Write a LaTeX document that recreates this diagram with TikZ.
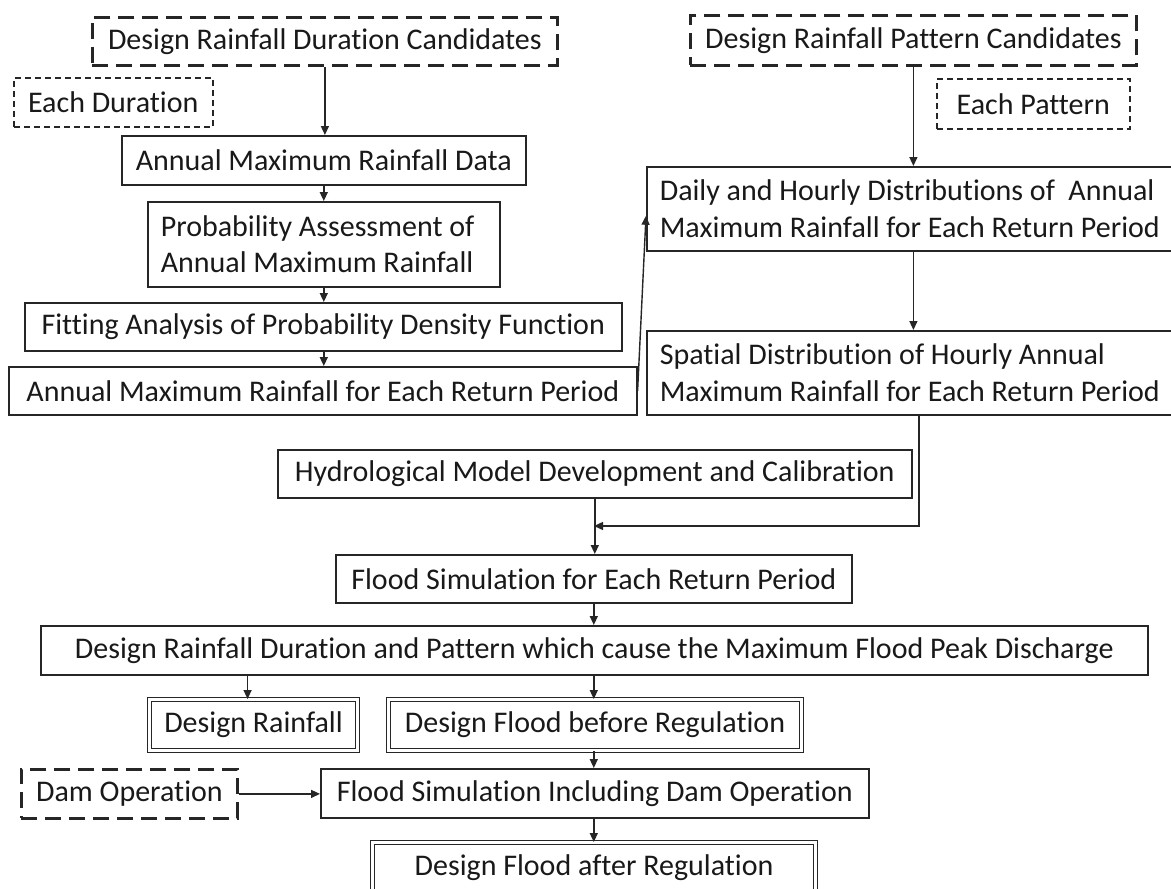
\documentclass[tikz,border=0pt]{standalone}
\usepackage{fontspec}
\setmainfont[RawFeature={-liga;-clig;-dlig;-calt}]{Carlito}
\usetikzlibrary{arrows.meta}
\begin{document}
\begin{tikzpicture}[x=1pt,y=-1pt,
  every node/.style={font=\fontsize{30}{36.7}\selectfont, text=black!90},
  box/.style={draw=black!85, line width=1.6pt, inner sep=0pt, anchor=north west},
  lbox/.style={box, inner xsep=13pt, align=flush left},
  dbox/.style={box, line width=1.1pt, double=white, double distance=2.6pt},
  dashbox/.style={box, line width=2.8pt, dash pattern=on 16pt off 8pt},
  fdashbox/.style={box, line width=1.5pt, dash pattern=on 6pt off 4pt},
  arr/.style={draw=black!85, line width=1.4pt, -{Triangle[length=9pt,width=8pt]}},
  ln/.style={draw=black!85, line width=1.4pt},
  ]
\useasboundingbox[fill=white] (0,0) rectangle (1171,889);

% left column
\node[dashbox, minimum width=465pt, minimum height=48pt] (dur) at (91,16) {Design Rainfall Duration Candidates};
\node[fdashbox, minimum width=199pt, minimum height=49pt] (eachdur) at (13,77) {Each Duration};
\node[box, minimum width=404pt, minimum height=49pt] (amrd) at (121,135) {Annual Maximum Rainfall Data};
\node[lbox, text width=326pt, minimum height=85pt] (prob) at (147,201) {Probability Assessment of\\Annual Maximum Rainfall};
\node[box, minimum width=597pt, minimum height=48pt] (fit) at (24,302) {Fitting Analysis of Probability Density Function};
\node[box, minimum width=628pt, minimum height=48pt] (amrp) at (8,366) {Annual Maximum Rainfall for Each Return Period};

% right column
\node[dashbox, minimum width=446pt, minimum height=50pt] (pat) at (689,14) {Design Rainfall Pattern Candidates};
\node[fdashbox, minimum width=193pt, minimum height=50pt] (eachpat) at (936,78) {Each Pattern};
\node[lbox, text width=500pt, minimum height=84pt] (daily) at (646,166) {Daily and Hourly Distributions of\ \ Annual\\Maximum Rainfall for Each Return Period};
\node[lbox, text width=500pt, minimum height=84pt] (spatial) at (646,330) {Spatial Distribution of Hourly Annual\\Maximum Rainfall for Each Return Period};

% lower part
\node[box, minimum width=634pt, minimum height=48pt] (hydro) at (277,449) {Hydrological Model Development and Calibration};
\node[box, minimum width=516pt, minimum height=48pt] (fs) at (335,554) {Flood Simulation for Each Return Period};
\node[box, minimum width=1107pt, minimum height=49pt] (drd) at (40,625) {Design Rainfall Duration and Pattern which cause the Maximum Flood Peak Discharge};
\node[dbox, minimum width=208pt, minimum height=51pt] (dr) at (149,699) {Design Rainfall};
\node[dbox, minimum width=413pt, minimum height=51pt] (dfbr) at (388,699) {Design Flood before Regulation};
\node[dashbox, minimum width=216pt, minimum height=49pt] (dam) at (20,768) {Dam Operation};
\node[box, minimum width=548pt, minimum height=49pt] (fsido) at (320,768) {Flood Simulation Including Dam Operation};
\node[dbox, minimum width=443pt, minimum height=51pt] (dfar) at (372,842) {Design Flood after Regulation};

\coordinate (j) at (594,526);

% connectors
\draw[arr] (dur.south) -- (dur.south |- amrd.north);
\draw[arr] (amrd.south -| prob.north) -- (prob.north);
\draw[arr] (prob.south) -- (prob.south |- fit.north);
\draw[arr] (prob.south |- fit.south) -- (prob.south |- amrp.north);
\draw[arr] (amrp.east) -- ([yshift=-7pt]daily.west);
\draw[arr] (pat.south) -- (pat.south |- daily.north);
\draw[arr] (pat.south |- daily.south) -- (pat.south |- spatial.north);
\draw[ln] ([xshift=9pt]spatial.south) |- (j);
\draw[arr] ([xshift=9pt]spatial.south |- j) -- (j);
\draw[arr] (hydro.south) -- (hydro.south |- fs.north);
\draw[arr] (fs.south) -- (fs.south |- drd.north);
\draw[arr] ([xshift=-6pt]dr.north |- drd.south) -- ([xshift=-6pt]dr.north);
\draw[arr] (fs.south |- drd.south) -- (fs.south |- dfbr.north);
\draw[arr] (fs.south |- dfbr.south) -- (fs.south |- fsido.north);
\draw[arr] (dam.east) -- (dam.east -| fsido.west);
\draw[arr] (fs.south |- fsido.south) -- (fs.south |- dfar.north);
\end{tikzpicture}
\end{document}
